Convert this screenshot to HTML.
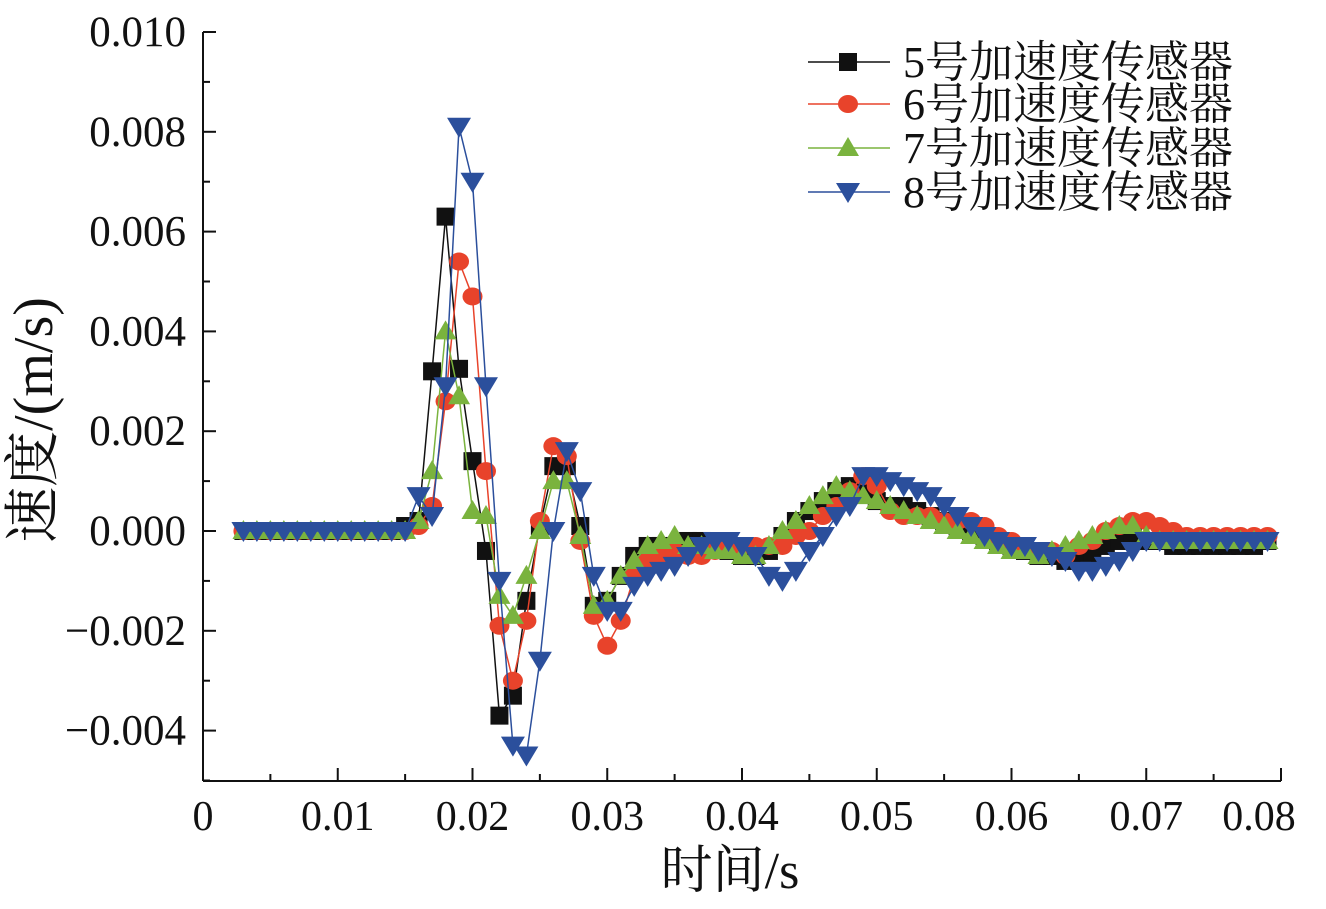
<!DOCTYPE html>
<html><head><meta charset="utf-8">
<style>
body{margin:0;background:#fff;}
svg text{font-family:"Liberation Serif","Noto Serif CJK SC",serif;fill:#111;}
</style></head>
<body>
<svg id="chart" width="1326" height="904" xmlns="http://www.w3.org/2000/svg">
<g id="axes"></g>
<g id="series"></g>
<g id="legend"></g>
<text x="730" y="888" font-size="52" text-anchor="middle">时间/s</text>
<text transform="translate(52,420) rotate(-90)" font-size="56" text-anchor="middle">速度/(m/s)</text>
</svg>
<script>
const t0 = 0.003, dt = 0.001;
const s5 = [0,0,0,0,0,0,0,0,0,0,0,0,0.0001,0.0002,0.0032,0.0063,0.00325,0.0014,-0.0004,-0.0037,-0.0033,-0.0014,0.0001,0.0013,0.0013,0.0001,-0.0015,-0.0014,-0.0009,-0.0005,-0.0003,-0.0003,-0.0003,-0.0002,-0.0002,-0.0003,-0.0004,-0.0005,-0.0005,-0.0004,-0.0001,0.0002,0.0004,0.0006,0.0008,0.0009,0.0008,0.0006,0.0005,0.0005,0.0004,0.0003,0.0002,0.0001,0,-0.0001,-0.0002,-0.0003,-0.0004,-0.0005,-0.0005,-0.0006,-0.0006,-0.0005,-0.0003,-0.0002,-0.0001,-0.0002,-0.0002,-0.0003,-0.0003,-0.0003,-0.0003,-0.0003,-0.0003,-0.0003,-0.0002];
const s6 = [0,0,0,0,0,0,0,0,0,0,0,0,0,0.0001,0.0005,0.0026,0.0054,0.0047,0.0012,-0.0019,-0.0030,-0.0018,0.0002,0.0017,0.0015,-0.0002,-0.0017,-0.0023,-0.0018,-0.0009,-0.0006,-0.0005,-0.0004,-0.0005,-0.0005,-0.0004,-0.0003,-0.0003,-0.0003,-0.0003,-0.0003,-0.0001,0,0.0003,0.0005,0.0008,0.0011,0.0009,0.0004,0.0003,0.0003,0.0003,0.0002,0.0002,0.0002,0.0001,-0.0001,-0.0002,-0.0003,-0.0004,-0.0004,-0.0005,-0.0003,-0.0002,0,0.0001,0.0002,0.0002,0.0001,0,-0.0001,-0.0001,-0.0001,-0.0001,-0.0001,-0.0001,-0.0001];
const s7 = [0,0,0,0,0,0,0,0,0,0,0,0,0,0.0002,0.0012,0.0040,0.0027,0.0004,0.0003,-0.0013,-0.0017,-0.0009,0,0.0010,0.0010,-0.0001,-0.0015,-0.0014,-0.0009,-0.0006,-0.0003,-0.0002,-0.0001,-0.0003,-0.0003,-0.0004,-0.0004,-0.0005,-0.0005,-0.0003,0,0.0002,0.0005,0.0007,0.0009,0.0008,0.0007,0.0006,0.0005,0.0004,0.0003,0.0002,0.0001,0,-0.0001,-0.0002,-0.0003,-0.0004,-0.0004,-0.0005,-0.0004,-0.0003,-0.0002,-0.0001,0,0.0001,0.0001,-0.0001,-0.0002,-0.0002,-0.0002,-0.0002,-0.0002,-0.0002,-0.0002,-0.0002,-0.0002];
const s8 = [0,0,0,0,0,0,0,0,0,0,0,0,0,0.0007,0.0003,0.0029,0.0081,0.0070,0.0029,-0.0010,-0.0043,-0.0045,-0.0026,0,0.0016,0.0008,-0.0009,-0.0016,-0.0016,-0.0011,-0.0009,-0.0008,-0.0007,-0.0005,-0.0003,-0.0002,-0.0002,-0.0003,-0.0005,-0.0009,-0.0010,-0.0008,-0.0004,-0.0001,0.0003,0.0005,0.0011,0.0011,0.0010,0.0009,0.0008,0.0007,0.0005,0.0003,0.0001,-0.0001,-0.0002,-0.0003,-0.0003,-0.0004,-0.0005,-0.0006,-0.0008,-0.0008,-0.0007,-0.0006,-0.0004,-0.0002,-0.0002,-0.0002,-0.0002,-0.0002,-0.0002,-0.0002,-0.0002,-0.0002,-0.0002];
const xTicks = ["0","0.01","0.02","0.03","0.04","0.05","0.06","0.07","0.08"];
const yTicks = ["\u22120.004","\u22120.002","0.000","0.002","0.004","0.006","0.008","0.010"];
const yTickVals = [-0.004,-0.002,0,0.002,0.004,0.006,0.008,0.010];
const xTickVals = [0,0.01,0.02,0.03,0.04,0.05,0.06,0.07,0.08];
const legendLabels = ["5号加速度传感器","6号加速度传感器","7号加速度传感器","8号加速度传感器"];

const NS="http://www.w3.org/2000/svg";
const X0=203,X1=1281,Y0=781,YT=32;
const xS=v=>X0+(v/0.08)*(X1-X0);
const yS=v=>531-(v/0.002)*99.8;
function mk(tag,parent){const e=document.createElementNS(NS,tag);parent.appendChild(e);return e;}
const axes=document.getElementById('axes');
let l=mk('line',axes);l.setAttribute('x1',X0);l.setAttribute('x2',X0);l.setAttribute('y1',YT);l.setAttribute('y2',Y0);l.setAttribute('stroke','#111');l.setAttribute('stroke-width','2');


l=mk('line',axes);l.setAttribute('x1',X0);l.setAttribute('x2',X1);l.setAttribute('y1',Y0);l.setAttribute('y2',Y0);l.setAttribute('stroke','#111');l.setAttribute('stroke-width','2');


for(let k=0;k<=16;k++){const v=k*0.005;const x=xS(v);const t=mk('line',axes);
t.setAttribute('x1',x);t.setAttribute('x2',x);t.setAttribute('y1',Y0);t.setAttribute('y2',Y0-(k%2?7:13));t.setAttribute('stroke','#111');t.setAttribute('stroke-width','2');

}
xTickVals.forEach((v,i)=>{const t=mk('text',axes);t.setAttribute('x',xS(v)-(i==8?22:0));t.setAttribute('y',830);t.setAttribute('font-size','42');t.setAttribute('text-anchor','middle');t.textContent=xTicks[i];

});
for(let k=-5;k<=10;k++){const v=k*0.001;const y=yS(v);const t=mk('line',axes);
t.setAttribute('x1',X0);t.setAttribute('x2',X0+(k%2?7:13));t.setAttribute('y1',y);t.setAttribute('y2',y);t.setAttribute('stroke','#111');t.setAttribute('stroke-width','2');

}
yTickVals.forEach((v,i)=>{const t=mk('text',axes);t.setAttribute('x',186);t.setAttribute('y',yS(v)+14);t.setAttribute('font-size','43');t.setAttribute('text-anchor','end');t.textContent=yTicks[i];

});

const colors=['#111111','#e8432b','#7ab33e','#2b4f9c'];
const shapes=['square','circle','up','down'];
function marker(g,shape,x,y,c,s){let e;
 if(shape=='square'){e=mk('rect',g);e.setAttribute('x',x-9);e.setAttribute('y',y-9);e.setAttribute('width',18);e.setAttribute('height',18);}
 else if(shape=='circle'){e=mk('ellipse',g);e.setAttribute('cx',x);e.setAttribute('cy',y);e.setAttribute('rx',10);e.setAttribute('ry',9);}
 else if(shape=='up'){e=mk('polygon',g);e.setAttribute('points',`${x},${y-11} ${x+11},${y+8} ${x-11},${y+8}`);}
 else {e=mk('polygon',g);e.setAttribute('points',`${x-12},${y-9} ${x+12},${y-9} ${x},${y+11}`);}
 e.setAttribute('fill',c);return e;}
const seriesG=document.getElementById('series');
const names=['series-sensor-5','series-sensor-6','series-sensor-7','series-sensor-8'];
[s5,s6,s7,s8].forEach((arr,si)=>{
 const g=mk('g',seriesG);
 
 
 const pts=arr.map((v,i)=>[xS(t0+dt*i),yS(v)]);
 const pl=mk('polyline',g);pl.setAttribute('points',pts.map(p=>p.join(',')).join(' '));pl.setAttribute('fill','none');pl.setAttribute('stroke',colors[si]);pl.setAttribute('stroke-width','1.5');
 
 
 pts.forEach(p=>{const m=marker(g,shapes[si],p[0],p[1],colors[si]);
 
 });
});
const lg=document.getElementById('legend');
const ly=[62,104,148,192];
legendLabels.forEach((lab,i)=>{
 const g=mk('g',lg);
 
 
 const ln=mk('line',g);ln.setAttribute('x1',808);ln.setAttribute('x2',890);ln.setAttribute('y1',ly[i]);ln.setAttribute('y2',ly[i]);ln.setAttribute('stroke',colors[i]);ln.setAttribute('stroke-width','1.5');
 marker(g,shapes[i],848,ly[i],colors[i]);
 const t=mk('text',g);t.setAttribute('x',903);t.setAttribute('y',ly[i]+15);t.setAttribute('font-size','44');t.textContent=lab;
});
</script>
</body></html>
